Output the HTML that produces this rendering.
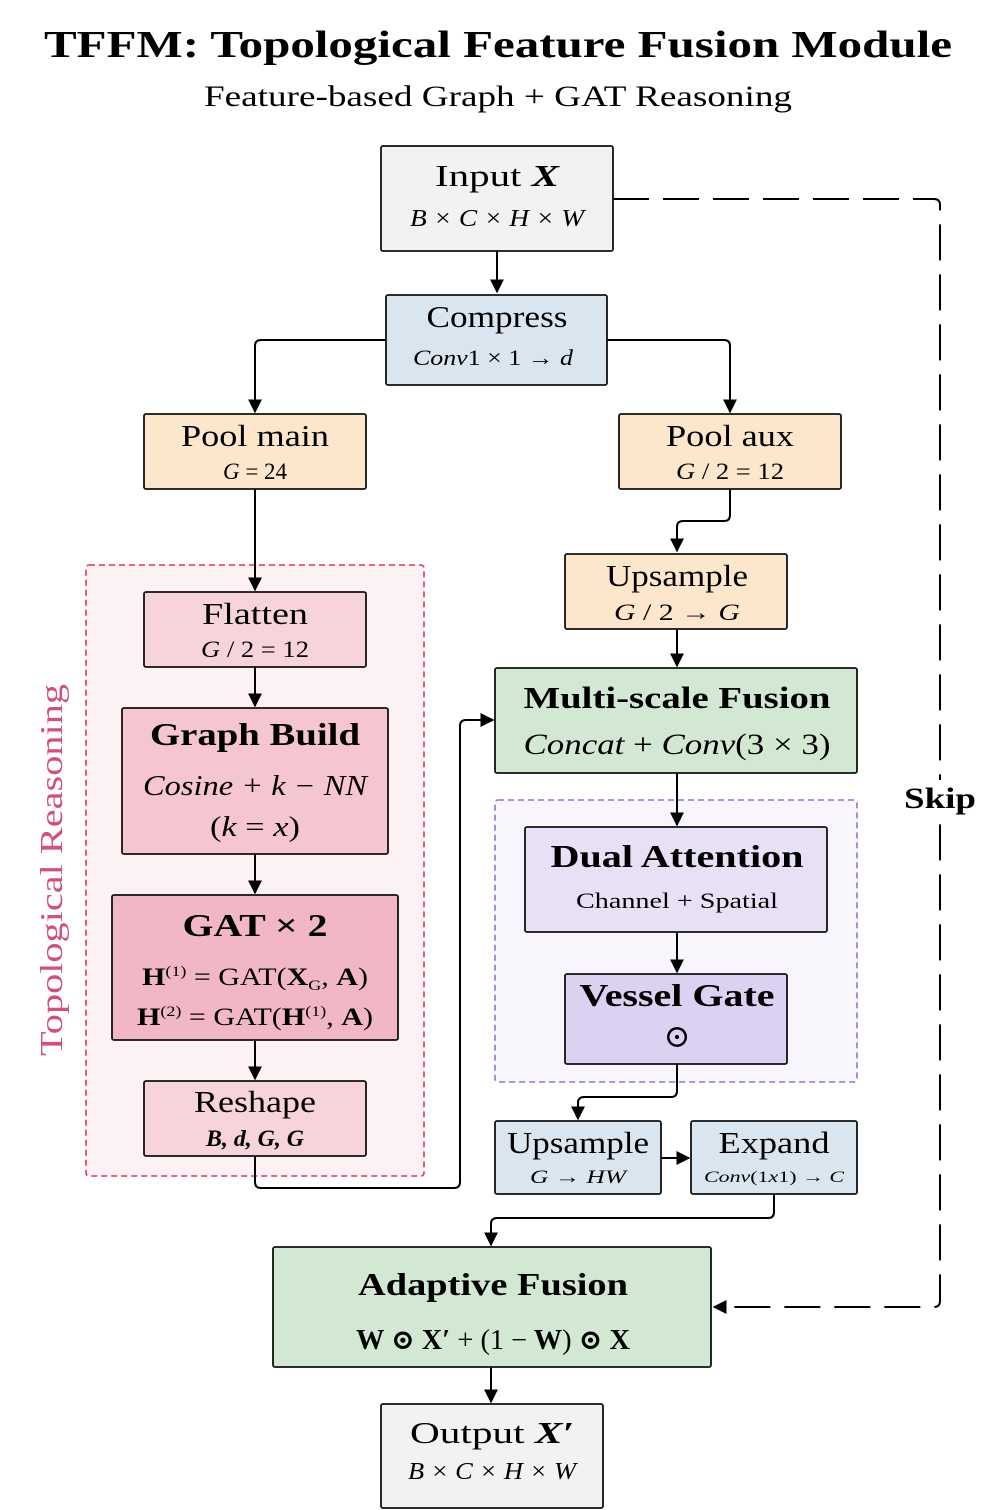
<!DOCTYPE html>
<html><head><meta charset="utf-8"><style>
html,body{margin:0;padding:0;background:#fff}
svg{display:block}
text{font-family:"Liberation Serif","DejaVu Serif",serif;fill:#000}
.i{font-style:italic}
.b{font-weight:bold}
</style></head><body>
<svg width="996" height="1510" viewBox="0 0 996 1510" xmlns="http://www.w3.org/2000/svg">
<defs>
<marker id="m" viewBox="0 0 10 10" refX="9" refY="5" markerWidth="14" markerHeight="14" markerUnits="userSpaceOnUse" orient="auto"><path d="M0,0 L10,5 L0,10 z" fill="#000"/></marker>
</defs>
<text x="498" y="57" font-size="38" class="b" text-anchor="middle" textLength="908" lengthAdjust="spacingAndGlyphs">TFFM: Topological Feature Fusion Module</text>
<text x="498" y="106" font-size="30" text-anchor="middle" textLength="588" lengthAdjust="spacingAndGlyphs">Feature-based Graph + GAT Reasoning</text>

<rect x="86" y="565" width="338" height="611" rx="3" fill="#fcf1f3" stroke="#e0345c" stroke-width="1.6" stroke-dasharray="6,4"/>
<rect x="495" y="800" width="362" height="282" rx="3" fill="#f8f6fc" stroke="#9370db" stroke-width="1.6" stroke-dasharray="6,4"/>
<text transform="translate(62,870) rotate(-90)" font-size="32" style="fill:#d0527a" text-anchor="middle" textLength="372" lengthAdjust="spacingAndGlyphs">Topological Reasoning</text>

<g stroke="#000" stroke-width="2" fill="none">
<path d="M497,251 V292" marker-end="url(#m)"/>
<path d="M386,340 H261 Q255,340 255,346 V412" marker-end="url(#m)"/>
<path d="M607,340 H724 Q730,340 730,346 V412" marker-end="url(#m)"/>
<path d="M255,489 V590" marker-end="url(#m)"/>
<path d="M730,489 V515 Q730,521 724,521 H683 Q677,521 677,527 V551" marker-end="url(#m)"/>
<path d="M677,629 V666" marker-end="url(#m)"/>
<path d="M255,667 V706" marker-end="url(#m)"/>
<path d="M255,854 V893" marker-end="url(#m)"/>
<path d="M255,1040 V1079" marker-end="url(#m)"/>
<path d="M255,1156 V1182 Q255,1188 261,1188 H454 Q460,1188 460,1182 V726 Q460,720 466,720 H493" marker-end="url(#m)"/>
<path d="M677,773 V825" marker-end="url(#m)"/>
<path d="M677,932 V972" marker-end="url(#m)"/>
<path d="M677,1064 V1091 Q677,1097 671,1097 H584 Q578,1097 578,1103 V1119" marker-end="url(#m)"/>
<path d="M661,1158 H689" marker-end="url(#m)"/>
<path d="M774,1194 V1212 Q774,1218 768,1218 H497 Q491,1218 491,1224 V1245" marker-end="url(#m)"/>
<path d="M491,1367 V1402" marker-end="url(#m)"/>
<path d="M613,199 H934 Q940,199 940,205 V1301 Q940,1307 934,1307 H714" stroke-dasharray="36,14" marker-end="url(#m)"/>
</g>
<rect x="902" y="780" width="78" height="34" fill="#fff"/>
<text x="940" y="808" font-size="30" class="b" text-anchor="middle" textLength="72" lengthAdjust="spacingAndGlyphs">Skip</text>

<g stroke="#111" stroke-width="1.8">
<rect x="381" y="146" width="232" height="105" rx="2" fill="#f0f2f4"/>
<rect x="386" y="295" width="221" height="90" rx="2" fill="#dae6ef"/>
<rect x="144" y="414" width="222" height="75" rx="2" fill="#fde7cc"/>
<rect x="619" y="414" width="222" height="75" rx="2" fill="#fde7cc"/>
<rect x="565" y="554" width="222" height="75" rx="2" fill="#fde7cc"/>
<rect x="495" y="668" width="362" height="105" rx="2" fill="#d3e8d3"/>
<rect x="144" y="592" width="222" height="75" rx="2" fill="#f7d3dc"/>
<rect x="122" y="708" width="266" height="146" rx="2" fill="#f5c5d0"/>
<rect x="112" y="895" width="286" height="145" rx="2" fill="#f2b7c4"/>
<rect x="144" y="1081" width="222" height="75" rx="2" fill="#f7d3dc"/>
<rect x="525" y="827" width="302" height="105" rx="2" fill="#e8e0f5"/>
<rect x="565" y="974" width="222" height="90" rx="2" fill="#ddd1f1"/>
<rect x="495" y="1121" width="166" height="73" rx="2" fill="#dae6ef"/>
<rect x="691" y="1121" width="166" height="73" rx="2" fill="#dae6ef"/>
<rect x="273" y="1247" width="438" height="120" rx="2" fill="#d3e8d3"/>
<rect x="381" y="1404" width="222" height="104" rx="2" fill="#f0f2f4"/>
</g>

<g text-anchor="middle">
<text x="497" y="186" font-size="31" textLength="124" lengthAdjust="spacingAndGlyphs">Input  <tspan class="i b">X</tspan></text>
<text x="497" y="226" font-size="24" class="i" textLength="174" lengthAdjust="spacingAndGlyphs">B × C × H × W</text>
<text x="497" y="327" font-size="31" textLength="141" lengthAdjust="spacingAndGlyphs">Compress</text>
<text x="493" y="365" font-size="22" textLength="160" lengthAdjust="spacingAndGlyphs"><tspan class="i">Conv</tspan>1 × 1 → <tspan class="i">d</tspan></text>
<text x="255" y="446" font-size="31" textLength="148" lengthAdjust="spacingAndGlyphs">Pool main</text>
<text x="255" y="479" font-size="23"><tspan class="i">G</tspan> = 24</text>
<text x="730" y="446" font-size="31" textLength="128" lengthAdjust="spacingAndGlyphs">Pool aux</text>
<text x="730" y="479" font-size="23" textLength="108" lengthAdjust="spacingAndGlyphs"><tspan class="i">G</tspan> / 2 = 12</text>
<text x="677" y="586" font-size="31" textLength="142" lengthAdjust="spacingAndGlyphs">Upsample</text>
<text x="677" y="620" font-size="23" textLength="126" lengthAdjust="spacingAndGlyphs"><tspan class="i">G</tspan> / 2  →  <tspan class="i">G</tspan></text>
<text x="677" y="708" font-size="31" class="b" textLength="307" lengthAdjust="spacingAndGlyphs">Multi-scale Fusion</text>
<text x="677" y="754" font-size="30" textLength="307" lengthAdjust="spacingAndGlyphs"><tspan class="i">Concat</tspan> + <tspan class="i">Conv</tspan>(3 × 3)</text>
<text x="255" y="624" font-size="31" textLength="106" lengthAdjust="spacingAndGlyphs">Flatten</text>
<text x="255" y="657" font-size="23" textLength="108" lengthAdjust="spacingAndGlyphs"><tspan class="i">G</tspan> / 2 = 12</text>
<text x="255" y="745" font-size="32" class="b" textLength="210" lengthAdjust="spacingAndGlyphs">Graph Build</text>
<text x="255" y="795" font-size="28" class="i" textLength="224" lengthAdjust="spacingAndGlyphs">Cosine + k − NN</text>
<text x="255" y="836" font-size="28" textLength="90" lengthAdjust="spacingAndGlyphs">(<tspan class="i">k</tspan> = <tspan class="i">x</tspan>)</text>
<text x="255" y="936" font-size="32" class="b" textLength="145" lengthAdjust="spacingAndGlyphs">GAT × 2</text>
<text x="255" y="985" font-size="25" textLength="226" lengthAdjust="spacingAndGlyphs"><tspan class="b">H</tspan><tspan font-size="15" dy="-9">(1)</tspan><tspan dy="9"> = GAT(</tspan><tspan class="b">X</tspan><tspan font-size="15" dy="5">G</tspan><tspan dy="-5">, </tspan><tspan class="b">A</tspan>)</text>
<text x="255" y="1025" font-size="25" textLength="236" lengthAdjust="spacingAndGlyphs"><tspan class="b">H</tspan><tspan font-size="15" dy="-9">(2)</tspan><tspan dy="9"> = GAT(</tspan><tspan class="b">H</tspan><tspan font-size="15" dy="-9">(1)</tspan><tspan dy="9">, </tspan><tspan class="b">A</tspan>)</text>
<text x="255" y="1112" font-size="31" textLength="122" lengthAdjust="spacingAndGlyphs">Reshape</text>
<text x="255" y="1146" font-size="23" class="i b" textLength="98" lengthAdjust="spacingAndGlyphs">B, d, G, G</text>
<text x="677" y="867" font-size="32" class="b" textLength="253" lengthAdjust="spacingAndGlyphs">Dual Attention</text>
<text x="677" y="908" font-size="22" textLength="202" lengthAdjust="spacingAndGlyphs">Channel + Spatial</text>
<text x="677" y="1006" font-size="32" class="b" textLength="195" lengthAdjust="spacingAndGlyphs">Vessel Gate</text>
<text x="677" y="1047" font-size="32">⊙</text>
<text x="578" y="1153" font-size="31" textLength="142" lengthAdjust="spacingAndGlyphs">Upsample</text>
<text x="578" y="1183" font-size="19" textLength="96" lengthAdjust="spacingAndGlyphs"><tspan class="i">G</tspan>  →  <tspan class="i">HW</tspan></text>
<text x="774" y="1153" font-size="31" textLength="111" lengthAdjust="spacingAndGlyphs">Expand</text>
<text x="774" y="1182" font-size="16" textLength="140" lengthAdjust="spacingAndGlyphs"><tspan class="i">Conv</tspan>(1<tspan class="i">x</tspan>1)  → <tspan class="i">C</tspan></text>
<text x="493" y="1295" font-size="32" class="b" textLength="270" lengthAdjust="spacingAndGlyphs">Adaptive Fusion</text>
<text x="493" y="1349" font-size="28" class="b" textLength="274" lengthAdjust="spacingAndGlyphs">W ⊙ X′ <tspan font-weight="normal">+ (1 −</tspan> W<tspan font-weight="normal">)</tspan> ⊙ X</text>
<text x="492" y="1443" font-size="31" textLength="164" lengthAdjust="spacingAndGlyphs">Output  <tspan class="i b">X′</tspan></text>
<text x="492" y="1479" font-size="24" class="i" textLength="168" lengthAdjust="spacingAndGlyphs">B × C × H × W</text>
</g>
</svg>
</body></html>
